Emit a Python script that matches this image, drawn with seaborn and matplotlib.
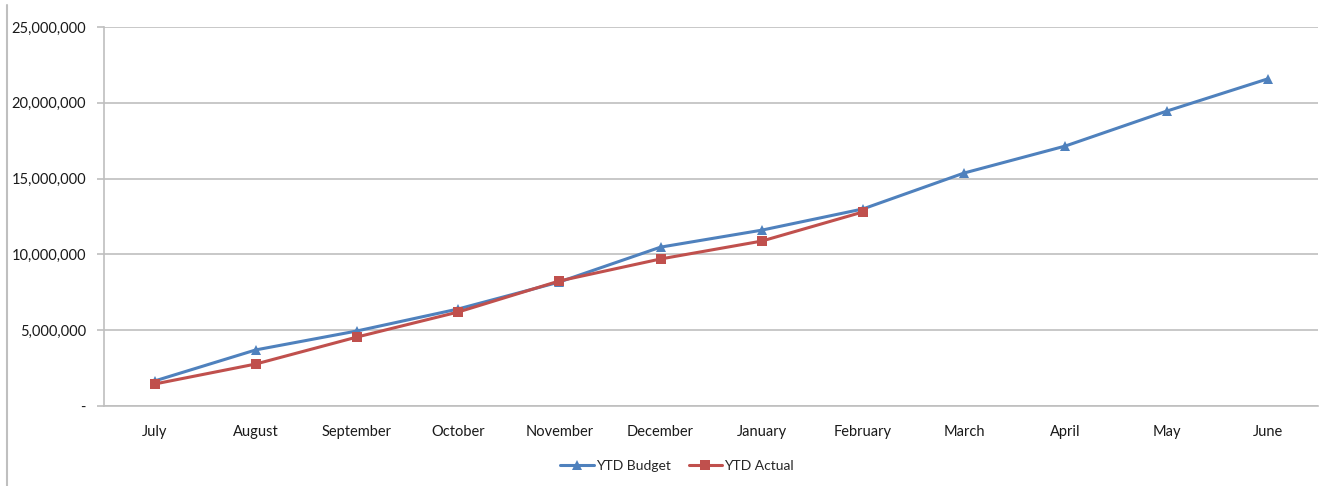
import numpy as np
import pandas as pd
import seaborn as sns
import matplotlib.pyplot as plt
from matplotlib.lines import Line2D
from matplotlib.ticker import FuncFormatter, FixedLocator

months = ["July", "August", "September", "October", "November", "December",
          "January", "February", "March", "April", "May", "June"]
ytd_budget = [1650000, 3700000, 4950000, 6400000, 8180000, 10480000,
              11600000, 13000000, 15370000, 17150000, 19450000, 21580000]
ytd_actual = [1450000, 2770000, 4550000, 6200000, 8250000, 9700000,
              10880000, 12800000, np.nan, np.nan, np.nan, np.nan]
series_names = ["YTD Budget", "YTD Actual"]
y_ticks = [0, 5000000, 10000000, 15000000, 20000000, 25000000]

blue = "#4F81BD"
red = "#C0504D"
grid_grey = "#BFBFBF"

df = pd.DataFrame({
    "Month": months * 2,
    "Value": ytd_budget + ytd_actual,
    "Series": [series_names[0]] * len(months) + [series_names[1]] * len(months),
}).dropna()

sns.set_style("white")
plt.rcParams["font.family"] = ["Lato", "DejaVu Sans"]

fig = plt.figure(figsize=(13.21, 4.86), dpi=100)
ax = fig.add_axes([0.0787, 0.1646, 0.9193, 0.7798])

sns.lineplot(data=df, x="Month", y="Value", hue="Series", style="Series",
             hue_order=series_names, style_order=series_names,
             palette={series_names[0]: blue, series_names[1]: red},
             markers={series_names[0]: "^", series_names[1]: "s"},
             dashes=False, sort=False, linewidth=2.2, markersize=7,
             markeredgewidth=0, ax=ax)

ax.set_xlim(-0.5, len(months) - 0.5)
ax.set_ylim(0, 25000000)
ax.set_yticks(y_ticks)
ax.yaxis.set_major_formatter(FuncFormatter(lambda v, p: "-" if v == 0 else f"{int(v):,}"))
ax.yaxis.grid(True, color=grid_grey, linewidth=1.2)
ax.xaxis.grid(False)

# category boundaries as tick marks, labels in between
ax.xaxis.set_major_locator(FixedLocator(np.arange(-0.5, len(months), 1.0)))
ax.xaxis.set_minor_locator(FixedLocator(np.arange(len(months))))
ax.set_xticklabels([], minor=False)
ax.set_xticklabels(months, minor=True)
ax.tick_params(axis="x", which="major", length=5, color=grid_grey, width=1.2)
ax.tick_params(axis="x", which="minor", length=0, pad=14, labelsize=10.5, labelcolor="#1a1a1a")
ax.tick_params(axis="y", length=5, color=grid_grey, width=1.2, labelsize=10.5,
               labelcolor="#1a1a1a", pad=8, left=True)

for s in ["top", "right"]:
    ax.spines[s].set_visible(False)
for s in ["left", "bottom"]:
    ax.spines[s].set_color(grid_grey)
    ax.spines[s].set_linewidth(1.2)

ax.set_xlabel("")
ax.set_ylabel("")

handles, labels = ax.get_legend_handles_labels()
ax.legend(handles, labels, loc="center", bbox_to_anchor=(0.472, -0.157), ncol=2,
          frameon=False, fontsize=10, handlelength=2.4, columnspacing=1.3,
          handletextpad=0.15)

fig.add_artist(Line2D([0.0055, 0.0055], [0.0, 0.99], color=grid_grey, linewidth=1.5))

fig.savefig("out.png", dpi=100)
